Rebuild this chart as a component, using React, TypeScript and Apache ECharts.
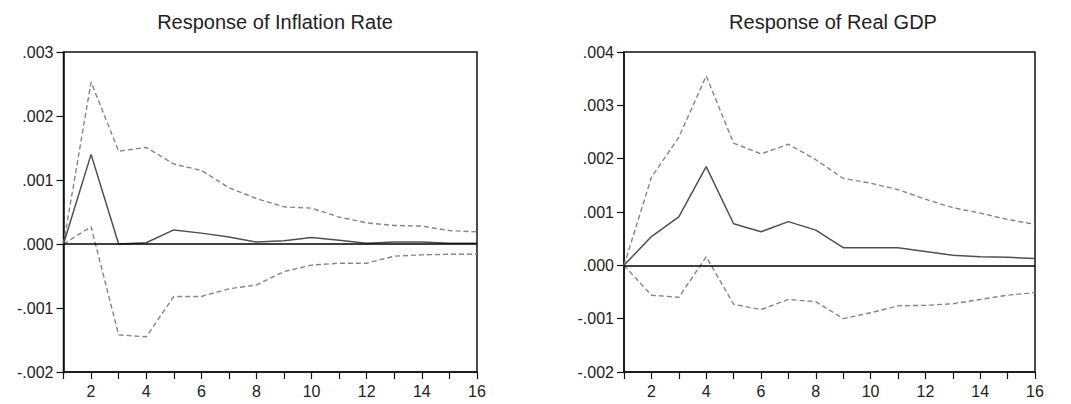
import React, { useEffect, useRef } from "react";
import * as echarts from "echarts";

const periods = ["1","2","3","4","5","6","7","8","9","10","11","12","13","14","15","16"];

const inflUpper = [0, 0.00253, 0.00145, 0.00151, 0.00125, 0.00115, 0.00088, 0.00071, 0.00058, 0.00056, 0.00042, 0.00033, 0.00029, 0.00028, 0.00021, 0.00019];
const inflResp = [0, 0.00140, 0.00000, 0.00002, 0.00022, 0.00017, 0.00011, 0.00003, 0.00005, 0.00010, 0.00006, 0.00001, 0.00003, 0.00003, 0.00001, 0.00001];
const inflLower = [0, 0.00027, -0.00142, -0.00145, -0.00082, -0.00082, -0.00070, -0.00064, -0.00043, -0.00033, -0.00030, -0.00030, -0.00019, -0.00017, -0.00016, -0.00016];

const gdpUpper = [0, 0.00165, 0.00240, 0.00355, 0.00229, 0.00209, 0.00227, 0.00198, 0.00163, 0.00154, 0.00142, 0.00124, 0.00108, 0.00098, 0.00086, 0.00077];
const gdpResp = [0, 0.00054, 0.00091, 0.00185, 0.00078, 0.00063, 0.00082, 0.00066, 0.00033, 0.00033, 0.00033, 0.00026, 0.00019, 0.00016, 0.00015, 0.00013];
const gdpLower = [0, -0.00056, -0.00060, 0.00016, -0.00073, -0.00083, -0.00064, -0.00068, -0.00100, -0.00089, -0.00076, -0.00075, -0.00072, -0.00064, -0.00056, -0.00051];

const titles = ["Response of Inflation Rate", "Response of Real GDP"];
const yRanges = [
  { min: -0.002, max: 0.003 },
  { min: -0.002, max: 0.004 },
];

const fmtY = (v: number) => {
  const s = Math.abs(v).toFixed(3).replace(/^0/, "");
  return v < -1e-9 ? "-" + s : s;
};

export default function App() {
  const ref = useRef<HTMLDivElement>(null);
  useEffect(() => {
    if (!ref.current) return;
    const chart = echarts.init(ref.current, undefined, { renderer: "svg" });
    const font = "Liberation Sans, Arial, sans-serif";
    const grids = [
      { left: 63.5, right: 594, top: 52, bottom: 32 },
      { left: 624, right: 36, top: 52, bottom: 32 },
    ];
    const xAxes = grids.map((_, i) => ({
      type: "category",
      gridIndex: i,
      data: periods,
      boundaryGap: false,
      axisLine: { onZero: false, lineStyle: { color: "#111", width: 1.5 } },
      axisTick: { show: true, interval: 0, length: 7, lineStyle: { color: "#111", width: 1.2 } },
      axisLabel: {
        interval: (idx: number) => idx % 2 === 1,
        margin: 11,
        color: "#222",
        fontSize: 16,
        fontFamily: font,
      },
      splitLine: { show: false },
    }));
    const yAxes = grids.map((_, i) => ({
      type: "value",
      gridIndex: i,
      min: yRanges[i].min,
      max: yRanges[i].max,
      interval: 0.001,
      axisLine: { show: true, lineStyle: { color: "#111", width: 1.5 } },
      axisTick: { show: true, length: 7, lineStyle: { color: "#111", width: 1.2 } },
      axisLabel: {
        formatter: fmtY,
        margin: 10,
        color: "#222",
        fontSize: 16,
        fontFamily: font,
      },
      splitLine: { show: false },
    }));
    const dashed = { color: "#858585", width: 1.4, type: [5, 3] as any };
    const solid = { color: "#505050", width: 1.5 };
    const mk = (data: number[], i: number, style: any, zero: boolean) => ({
      type: "line",
      xAxisIndex: i,
      yAxisIndex: i,
      data,
      symbol: "none",
      lineStyle: style,
      silent: true,
      markLine: zero
        ? {
            silent: true,
            symbol: "none",
            label: { show: false },
            lineStyle: { color: "#000", width: 1.5, type: "solid" },
            data: [{ yAxis: 0 }],
          }
        : undefined,
    });
    chart.setOption({
      animation: false,
      backgroundColor: "#fff",
      title: titles.map((t, i) => ({
        text: t,
        left: i === 0 ? 270 : 828,
        top: 7,
        textAlign: "center",
        textStyle: { fontSize: 20, fontWeight: "normal", color: "#222", fontFamily: font },
      })),
      grid: grids.map((g) => ({ ...g, show: true, borderColor: "#111", borderWidth: 1.5, backgroundColor: "transparent" })),
      xAxis: xAxes,
      yAxis: yAxes,
      series: [
        mk(inflUpper, 0, dashed, false),
        mk(inflLower, 0, dashed, false),
        mk(inflResp, 0, solid, true),
        mk(gdpUpper, 1, dashed, false),
        mk(gdpLower, 1, dashed, false),
        mk(gdpResp, 1, solid, true),
      ],
    });
    return () => chart.dispose();
  }, []);
  return (
    <div
      ref={ref}
      style={{ position: "fixed", left: 0, top: 0, width: 1071, height: 404, background: "#fff" }}
    />
  );
}
